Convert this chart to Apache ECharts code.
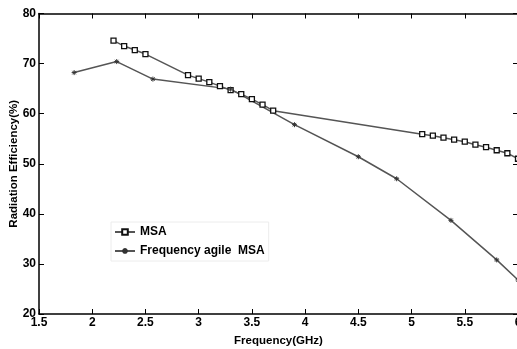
<!DOCTYPE html>
<html><head><meta charset="utf-8">
<script src="https://cdn.jsdelivr.net/npm/echarts@6/dist/echarts.min.js"></script>
<style>html,body{margin:0;padding:0;background:#fff}#c{width:517px;height:349px}</style>
</head><body><div id="c"></div>
<script>
const msaFreq = [2.2,2.3,2.4,2.5,2.9,3.0,3.1,3.2,3.3,3.4,3.5,3.6,3.7,5.1,5.2,5.3,5.4,5.5,5.6,5.7,5.8,5.9,6.0];
const msaEff  = [74.6,73.5,72.7,71.9,67.7,67.0,66.3,65.5,64.7,63.9,62.9,61.8,60.6,55.9,55.6,55.2,54.8,54.4,53.8,53.3,52.7,52.1,51.0];
const agileFreq = [1.83,2.23,2.57,3.3,3.9,4.5,4.86,5.37,5.8,6.0];
const agileEff  = [68.2,70.4,66.9,64.9,57.8,51.4,47.0,38.7,30.8,26.8];
const xTicks = {min:1.5, max:6, step:0.5};
const yTicks = {min:20, max:80, step:10};
const seriesNames = ['MSA','Frequency agile  MSA'];

const FONT = '"Liberation Sans",Arial,sans-serif';
const star = 'path://M5,0L5,10M0,5L10,5M1.5,1.5L8.5,8.5M8.5,1.5L1.5,8.5';
const chart = echarts.init(document.getElementById('c'));
const axisCommon = {
  axisLine:{show:true,onZero:false,lineStyle:{color:'#000',width:1.5}},
  axisTick:{show:true,inside:true,length:5,lineStyle:{color:'#000',width:1}},
  splitLine:{show:false}
};
chart.setOption({
  animation:false,
  backgroundColor:'#fff',
  grid:{left:39,right:-1,top:13.5,bottom:35,containLabel:false,outerBoundsMode:'none'},
  legend:{
    orient:'vertical', left:111, top:222, padding:[4,4,4,3],
    itemGap:7, itemWidth:20, itemHeight:7,
    borderColor:'#ececec', borderWidth:1, backgroundColor:'#fff',
    textStyle:{fontFamily:FONT,fontWeight:'bold',fontSize:12,color:'#000'},
    data:[{name:seriesNames[0]},{name:seriesNames[1]}]
  },
  xAxis:[
    Object.assign({type:'value',min:xTicks.min,max:xTicks.max,interval:xTicks.step,position:'bottom',
      name:'Frequency(GHz)',nameLocation:'middle',nameGap:21,nameMoveOverlap:false,
      nameTextStyle:{fontFamily:FONT,fontWeight:'bold',fontSize:11.5,color:'#000'},
      axisLabel:{fontFamily:FONT,fontWeight:'bold',fontSize:12,color:'#000',margin:3}},axisCommon),
    Object.assign({type:'value',min:xTicks.min,max:xTicks.max,interval:xTicks.step,position:'top',
      axisLabel:{show:false}},axisCommon)
  ],
  yAxis:[
    Object.assign({type:'value',min:yTicks.min,max:yTicks.max,interval:yTicks.step,position:'left',
      name:'Radiation Efficiency(%)',nameLocation:'middle',nameGap:19,nameMoveOverlap:false,
      nameTextStyle:{fontFamily:FONT,fontWeight:'bold',fontSize:11.5,color:'#000'},
      axisLabel:{fontFamily:FONT,fontWeight:'bold',fontSize:12,color:'#000',margin:3}},axisCommon),
    Object.assign({type:'value',min:yTicks.min,max:yTicks.max,interval:yTicks.step,position:'right',
      axisLabel:{show:false}},axisCommon)
  ],
  series:[
    {name:seriesNames[0],type:'line',data:msaFreq.map((f,i)=>[f,msaEff[i]]),
     symbol:'rect',symbolSize:5,showAllSymbol:true,
     itemStyle:{color:'#fff',borderColor:'#111',borderWidth:1.3},
     lineStyle:{color:'#555',width:1.5}},
    {name:seriesNames[1],type:'line',data:agileFreq.map((f,i)=>[f,agileEff[i]]),
     symbol:star,symbolSize:5,showAllSymbol:true,
     itemStyle:{color:'#333',borderColor:'#333',borderWidth:1},
     lineStyle:{color:'#555',width:1.5}}
  ]
});
</script></body></html>
